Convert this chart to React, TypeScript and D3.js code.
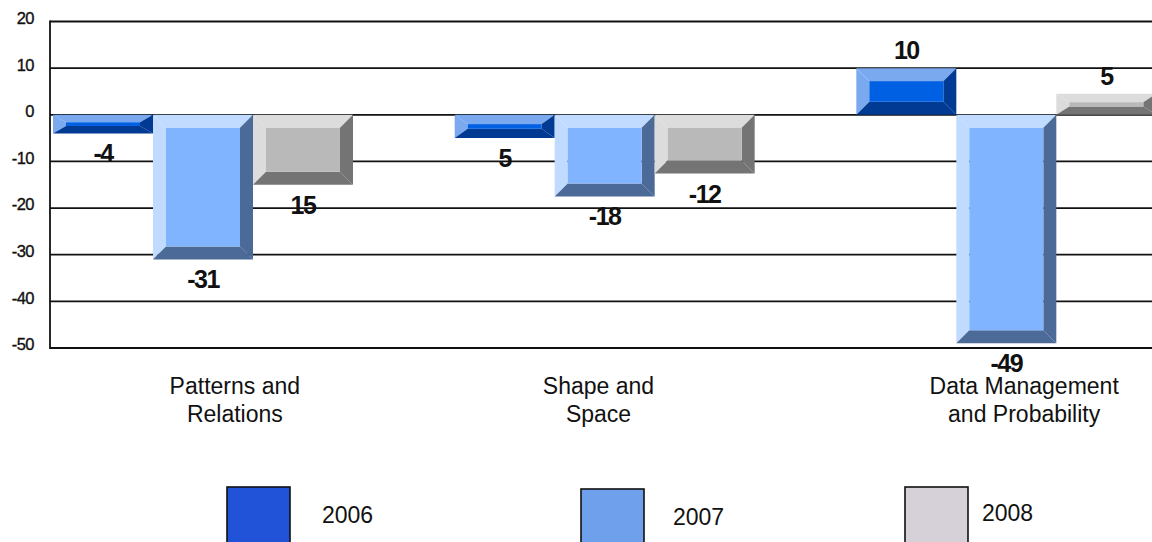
import React, { useEffect, useRef } from "react";
import * as d3 from "d3";

const categories = ["Patterns and Relations", "Shape and Space", "Data Management and Probability"];
const categoryLines = [["Patterns and", "Relations"], ["Shape and", "Space"], ["Data Management", "and Probability"]];
const seriesNames = ["2006", "2007", "2008"];
const values2006 = [-4, -5, 10];
const values2007 = [-31, -17.5, -49];
const values2008 = [-15, -12.6, 4.5];
const labels2006 = ["-4", "5", "10"];
const labels2007 = ["-31", "-18", "-49"];
const labels2008 = ["15", "-12", "5"];
const yTicks = [20, 10, 0, -10, -20, -30, -40, -50];

const W = 1152;
const H = 542;

const palette = [
  { light: "#7aa9f0", face: "#0060e4", dark: "#003a92", legend: "#2153d9" },
  { light: "#c0dbff", face: "#80b4ff", dark: "#4b6a98", legend: "#6ea0ec" },
  { light: "#dcdcdc", face: "#b9b9b9", dark: "#747474", legend: "#d6d1d8" },
];
const catLabelShift = [-16, -54, -30];
const legendLayout = [
  { box: 227, boxTop: 487, text: 322, base: 523 },
  { box: 581, boxTop: 489, text: 673, base: 525 },
  { box: 905, boxTop: 487, text: 982, base: 521 },
];

export default function App() {
  const ref = useRef<SVGSVGElement>(null);
  useEffect(() => {
    const svg = d3.select(ref.current);
    svg.selectAll("*").remove();
    const seriesValues = [values2006, values2007, values2008];
    const seriesLabels = [labels2006, labels2007, labels2008];

    const y = d3.scaleLinear().domain([-50, 20]).range([348, 21.5]);
    const x = d3.scaleBand().domain(categories).range([50, 1255]).paddingInner(0);
    const xs = d3.scaleBand().domain(seriesNames).range([3, 303]);

    const plotLeft = 50;
    // grid
    svg.append("g").selectAll("line").data(yTicks).join("line")
      .attr("x1", plotLeft).attr("x2", W)
      .attr("y1", (d) => y(d)).attr("y2", (d) => y(d))
      .attr("stroke", "#111").attr("stroke-width", 1.8);
    svg.append("line").attr("x1", plotLeft).attr("x2", plotLeft)
      .attr("y1", y(20) - 0.9).attr("y2", y(-50) + 0.9)
      .attr("stroke", "#111").attr("stroke-width", 1.8);
    svg.append("g").selectAll("text").data(yTicks).join("text")
      .attr("x", 34).attr("y", (d) => y(d) - 2)
      .attr("text-anchor", "end").attr("dominant-baseline", "middle")
      .attr("font-family", "Liberation Sans, Arial, sans-serif")
      .attr("font-size", 16.5).attr("fill", "#111")
      .attr("stroke", "#111").attr("stroke-width", 0.35)
      .attr("letter-spacing", -0.5)
      .text((d) => String(d));

    // bars
    const bars = svg.append("g");
    const lbls = svg.append("g");
    categories.forEach((c, ci) => {
      seriesNames.forEach((s, si) => {
        const v = seriesValues[si][ci];
        const x0 = (x(c) as number) + (xs(s) as number);
        const x1 = x0 + xs.bandwidth();
        const y0 = Math.min(y(0), y(v));
        const y1 = Math.max(y(0), y(v));
        const h = y1 - y0;
        const bx = 13;
        const by = Math.min(13, h * 0.4);
        const col = palette[si];
        const g = bars.append("g");
        const poly = (pts: number[][], fill: string) =>
          g.append("polygon").attr("points", pts.map((p) => p.join(",")).join(" ")).attr("fill", fill);
        poly([[x0, y0], [x1, y0], [x1 - bx, y0 + by], [x0 + bx, y0 + by]], col.light);
        poly([[x0, y0], [x0 + bx, y0 + by], [x0 + bx, y1 - by], [x0, y1]], col.light);
        poly([[x1, y0], [x1, y1], [x1 - bx, y1 - by], [x1 - bx, y0 + by]], col.dark);
        poly([[x0, y1], [x1, y1], [x1 - bx, y1 - by], [x0 + bx, y1 - by]], col.dark);
        g.append("rect").attr("x", x0 + bx).attr("y", y0 + by)
          .attr("width", Math.max(0, x1 - x0 - 2 * bx)).attr("height", Math.max(0, h - 2 * by))
          .attr("fill", col.face);
        const ly = v < 0 ? y1 + 29 : y0 - 9;
        lbls.append("text").attr("x", (x0 + x1) / 2).attr("y", ly)
          .attr("text-anchor", "middle")
          .attr("font-family", "Liberation Sans, Arial, sans-serif")
          .attr("font-weight", "bold").attr("font-size", 25)
          .attr("letter-spacing", -1.5)
          .attr("fill", "#111")
          .text(seriesLabels[si][ci]);
      });
    });

    // category labels
    categories.forEach((c, ci) => {
      const cx = (x(c) as number) + x.bandwidth() / 2 + catLabelShift[ci];
      categoryLines[ci].forEach((line, li) => {
        svg.append("text").attr("x", cx).attr("y", 394 + li * 28)
          .attr("text-anchor", "middle")
          .attr("font-family", "Liberation Sans, Arial, sans-serif")
          .attr("font-size", 23).attr("fill", "#111")
          .text(line);
      });
    });

    // legend
    seriesNames.forEach((s, si) => {
      const L = legendLayout[si];
      svg.append("rect").attr("x", L.box).attr("y", L.boxTop).attr("width", 63).attr("height", 70)
        .attr("fill", palette[si].legend).attr("stroke", "#111").attr("stroke-width", 1.6);
      svg.append("text").attr("x", L.text).attr("y", L.base)
        .attr("font-family", "Liberation Sans, Arial, sans-serif")
        .attr("font-size", 23).attr("fill", "#111").text(s);
    });
  }, []);
  return (
    <svg ref={ref} width={W} height={H}
      style={{ position: "absolute", left: 0, top: 0, background: "#fff", display: "block" }} />
  );
}
